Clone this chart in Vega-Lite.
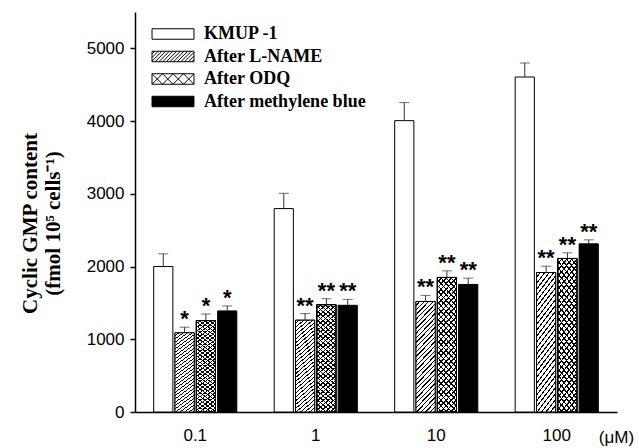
{
  "$schema": "https://vega.github.io/schema/vega-lite/v6.json",
  "width": 482,
  "height": 400,
  "autosize": {"type": "none"},
  "padding": {"left": 135, "top": 12, "right": 22, "bottom": 36},
  "background": "white",
  "config": {"view": {"stroke": null}, "axis": {"grid": false}},
  "data": {
    "values": [
      {"dose": "0.1", "series": "KMUP -1", "value": 2000, "err": 2175, "sig": ""},
      {"dose": "0.1", "series": "After L-NAME", "value": 1089, "err": 1166, "sig": "*"},
      {"dose": "0.1", "series": "After ODQ", "value": 1257, "err": 1348, "sig": "*"},
      {"dose": "0.1", "series": "After methylene blue", "value": 1390, "err": 1458, "sig": "*"},
      {"dose": "1", "series": "KMUP -1", "value": 2797, "err": 3007, "sig": ""},
      {"dose": "1", "series": "After L-NAME", "value": 1262, "err": 1353, "sig": "**"},
      {"dose": "1", "series": "After ODQ", "value": 1476, "err": 1558, "sig": "**"},
      {"dose": "1", "series": "After methylene blue", "value": 1467, "err": 1549, "sig": "**"},
      {"dose": "10", "series": "KMUP -1", "value": 4006, "err": 4254, "sig": ""},
      {"dose": "10", "series": "After L-NAME", "value": 1520, "err": 1603, "sig": "**"},
      {"dose": "10", "series": "After ODQ", "value": 1850, "err": 1941, "sig": "**"},
      {"dose": "10", "series": "After methylene blue", "value": 1754, "err": 1841, "sig": "**"},
      {"dose": "100", "series": "KMUP -1", "value": 4606, "err": 4799, "sig": ""},
      {"dose": "100", "series": "After L-NAME", "value": 1918, "err": 2005, "sig": "**"},
      {"dose": "100", "series": "After ODQ", "value": 2111, "err": 2189, "sig": "**"},
      {"dose": "100", "series": "After methylene blue", "value": 2312, "err": 2367, "sig": "**"}
    ]
  },
  "encoding": {
    "x": {
      "field": "dose", "type": "nominal", "sort": ["0.1", "1", "10", "100"],
      "scale": {"domain": ["0.1", "1", "10", "100"], "paddingInner": 0.31, "paddingOuter": 0.155},
      "axis": {"labelAngle": 0, "ticks": false, "tickSize": 0, "labelPadding": 15, "labelFont": "Liberation Sans", "labelFontSize": 17, "labelColor": "black", "domainColor": "black", "domainWidth": 1.5, "title": "(μM)", "titleFont": "Liberation Sans", "titleFontSize": 17, "titleFontWeight": "normal", "titleColor": "black", "titleX": 481, "titleY": 25, "titleBaseline": "middle", "titleAlign": "center"}
    },
    "xOffset": {
      "field": "series", "type": "nominal",
      "scale": {"domain": ["KMUP -1", "After L-NAME", "After ODQ", "After methylene blue"], "paddingInner": 0.1, "paddingOuter": 0}
    }
  },
  "layer": [
    {
      "mark": {"type": "bar", "stroke": "black", "strokeWidth": 1},
      "encoding": {
        "y": {
          "field": "value", "type": "quantitative",
          "scale": {"domain": [0, 5500], "nice": false},
          "axis": {"values": [0, 1000, 2000, 3000, 4000, 5000], "format": "d", "tickSize": 5, "tickColor": "black", "tickWidth": 1.5, "labelPadding": 6, "labelFont": "Liberation Sans", "labelFontSize": 17, "labelColor": "black", "domainColor": "black", "domainWidth": 1.5, "title": ["Cyclic GMP content", "(fmol 10⁵ cells⁻¹)"], "titleFont": "Liberation Serif", "titleFontSize": 21, "titleFontWeight": "bold", "titleColor": "black", "titleAngle": -90, "titleX": -105, "titleY": 211, "titleBaseline": "middle", "titleAlign": "center", "titleLineHeight": 23}
        },
        "fill": {
          "field": "series", "type": "nominal",
          "scale": {"domain": ["KMUP -1", "After L-NAME", "After ODQ", "After methylene blue"], "range": ["white", "white", "white", "black"]},
          "legend": {
            "orient": "none", "legendX": 29, "legendY": 13, "title": null, "padding": 0,
            "labelFont": "Liberation Serif", "labelFontSize": 18, "labelFontWeight": "bold", "labelColor": "black", "labelOffset": 22, "labelLimit": 400,
            "symbolSize": 110, "symbolType": "M-4,-1H4V1H-4Z", "symbolStrokeWidth": 1, "symbolStrokeColor": "black", "rowPadding": 4.5,
            "encode": {
              "symbols": {
                "update": {
                  "shape": [
                    {"test": "datum.value === 'After L-NAME'", "value": "M-4,-1H4V1H-4Z M-4,-0.5L-3.5,-1 M-4,0.2L-2.8,-1 M-4,0.9L-2.1,-1 M-3.4,1L-1.4,-1 M-2.7,1L-0.7,-1 M-2,1L0,-1 M-1.3,1L0.7,-1 M-0.6,1L1.4,-1 M0.1,1L2.1,-1 M0.8,1L2.8,-1 M1.5,1L3.5,-1 M2.2,1L4,-0.8 M2.9,1L4,-0.1 M3.6,1L4,0.6"},
                    {"test": "datum.value === 'After ODQ'", "value": "M-4,-1H4V1H-4Z M-4,1L-2,-1 M-2,1L0,-1 M0,1L2,-1 M2,1L4,-1 M-4,-1L-2,1 M-2,-1L0,1 M0,-1L2,1 M2,-1L4,1"},
                    {"value": "M-4,-1H4V1H-4Z"}
                  ],
                  "stroke": {"value": "black"},
                  "strokeWidth": {"value": 1},
                  "opacity": {"value": 1}
                }
              }
            }
          }
        }
      }
    },
    {
      "transform": [{"filter": "datum.series === 'After L-NAME'"}],
      "mark": {
        "type": "bar", "stroke": "black", "strokeWidth": 1,
        "fill": {"gradient": "linear", "x1": 0, "y1": 0, "x2": 0.207, "y2": 1.143, "stops": [
          {"offset":0.025,"color":"#fff"},{"offset":0.025,"color":"#000"},{"offset":0.0357,"color":"#000"},{"offset":0.0357,"color":"#fff"},
          {"offset":0.0607,"color":"#fff"},{"offset":0.0607,"color":"#000"},{"offset":0.0714,"color":"#000"},{"offset":0.0714,"color":"#fff"},
          {"offset":0.0964,"color":"#fff"},{"offset":0.0964,"color":"#000"},{"offset":0.1071,"color":"#000"},{"offset":0.1071,"color":"#fff"},
          {"offset":0.1321,"color":"#fff"},{"offset":0.1321,"color":"#000"},{"offset":0.1429,"color":"#000"},{"offset":0.1429,"color":"#fff"},
          {"offset":0.1679,"color":"#fff"},{"offset":0.1679,"color":"#000"},{"offset":0.1786,"color":"#000"},{"offset":0.1786,"color":"#fff"},
          {"offset":0.2036,"color":"#fff"},{"offset":0.2036,"color":"#000"},{"offset":0.2143,"color":"#000"},{"offset":0.2143,"color":"#fff"},
          {"offset":0.2393,"color":"#fff"},{"offset":0.2393,"color":"#000"},{"offset":0.25,"color":"#000"},{"offset":0.25,"color":"#fff"},
          {"offset":0.275,"color":"#fff"},{"offset":0.275,"color":"#000"},{"offset":0.2857,"color":"#000"},{"offset":0.2857,"color":"#fff"},
          {"offset":0.3107,"color":"#fff"},{"offset":0.3107,"color":"#000"},{"offset":0.3214,"color":"#000"},{"offset":0.3214,"color":"#fff"},
          {"offset":0.3464,"color":"#fff"},{"offset":0.3464,"color":"#000"},{"offset":0.3571,"color":"#000"},{"offset":0.3571,"color":"#fff"},
          {"offset":0.3821,"color":"#fff"},{"offset":0.3821,"color":"#000"},{"offset":0.3929,"color":"#000"},{"offset":0.3929,"color":"#fff"},
          {"offset":0.4179,"color":"#fff"},{"offset":0.4179,"color":"#000"},{"offset":0.4286,"color":"#000"},{"offset":0.4286,"color":"#fff"},
          {"offset":0.4536,"color":"#fff"},{"offset":0.4536,"color":"#000"},{"offset":0.4643,"color":"#000"},{"offset":0.4643,"color":"#fff"},
          {"offset":0.4893,"color":"#fff"},{"offset":0.4893,"color":"#000"},{"offset":0.5,"color":"#000"},{"offset":0.5,"color":"#fff"},
          {"offset":0.525,"color":"#fff"},{"offset":0.525,"color":"#000"},{"offset":0.5357,"color":"#000"},{"offset":0.5357,"color":"#fff"},
          {"offset":0.5607,"color":"#fff"},{"offset":0.5607,"color":"#000"},{"offset":0.5714,"color":"#000"},{"offset":0.5714,"color":"#fff"},
          {"offset":0.5964,"color":"#fff"},{"offset":0.5964,"color":"#000"},{"offset":0.6071,"color":"#000"},{"offset":0.6071,"color":"#fff"},
          {"offset":0.6321,"color":"#fff"},{"offset":0.6321,"color":"#000"},{"offset":0.6429,"color":"#000"},{"offset":0.6429,"color":"#fff"},
          {"offset":0.6679,"color":"#fff"},{"offset":0.6679,"color":"#000"},{"offset":0.6786,"color":"#000"},{"offset":0.6786,"color":"#fff"},
          {"offset":0.7036,"color":"#fff"},{"offset":0.7036,"color":"#000"},{"offset":0.7143,"color":"#000"},{"offset":0.7143,"color":"#fff"},
          {"offset":0.7393,"color":"#fff"},{"offset":0.7393,"color":"#000"},{"offset":0.75,"color":"#000"},{"offset":0.75,"color":"#fff"},
          {"offset":0.775,"color":"#fff"},{"offset":0.775,"color":"#000"},{"offset":0.7857,"color":"#000"},{"offset":0.7857,"color":"#fff"},
          {"offset":0.8107,"color":"#fff"},{"offset":0.8107,"color":"#000"},{"offset":0.8214,"color":"#000"},{"offset":0.8214,"color":"#fff"},
          {"offset":0.8464,"color":"#fff"},{"offset":0.8464,"color":"#000"},{"offset":0.8571,"color":"#000"},{"offset":0.8571,"color":"#fff"},
          {"offset":0.8821,"color":"#fff"},{"offset":0.8821,"color":"#000"},{"offset":0.8929,"color":"#000"},{"offset":0.8929,"color":"#fff"},
          {"offset":0.9179,"color":"#fff"},{"offset":0.9179,"color":"#000"},{"offset":0.9286,"color":"#000"},{"offset":0.9286,"color":"#fff"},
          {"offset":0.9536,"color":"#fff"},{"offset":0.9536,"color":"#000"},{"offset":0.9643,"color":"#000"},{"offset":0.9643,"color":"#fff"},
          {"offset":0.9893,"color":"#fff"},{"offset":0.9893,"color":"#000"},{"offset":1,"color":"#000"}
        ]}
      },
      "encoding": {"y": {"field": "value", "type": "quantitative"}}
    },
    {
      "transform": [{"filter": "datum.series === 'After ODQ'"}],
      "mark": {
        "type": "bar", "stroke": "black", "strokeWidth": 1,
        "fill": {"gradient": "linear", "x1": 0, "y1": 0, "x2": 0.176, "y2": 1.128, "stops": [
          {"offset":0.025,"color":"transparent"},{"offset":0.025,"color":"#000"},{"offset":0.0357,"color":"#000"},{"offset":0.0357,"color":"transparent"},
          {"offset":0.0607,"color":"transparent"},{"offset":0.0607,"color":"#000"},{"offset":0.0714,"color":"#000"},{"offset":0.0714,"color":"transparent"},
          {"offset":0.0964,"color":"transparent"},{"offset":0.0964,"color":"#000"},{"offset":0.1071,"color":"#000"},{"offset":0.1071,"color":"transparent"},
          {"offset":0.1321,"color":"transparent"},{"offset":0.1321,"color":"#000"},{"offset":0.1429,"color":"#000"},{"offset":0.1429,"color":"transparent"},
          {"offset":0.1679,"color":"transparent"},{"offset":0.1679,"color":"#000"},{"offset":0.1786,"color":"#000"},{"offset":0.1786,"color":"transparent"},
          {"offset":0.2036,"color":"transparent"},{"offset":0.2036,"color":"#000"},{"offset":0.2143,"color":"#000"},{"offset":0.2143,"color":"transparent"},
          {"offset":0.2393,"color":"transparent"},{"offset":0.2393,"color":"#000"},{"offset":0.25,"color":"#000"},{"offset":0.25,"color":"transparent"},
          {"offset":0.275,"color":"transparent"},{"offset":0.275,"color":"#000"},{"offset":0.2857,"color":"#000"},{"offset":0.2857,"color":"transparent"},
          {"offset":0.3107,"color":"transparent"},{"offset":0.3107,"color":"#000"},{"offset":0.3214,"color":"#000"},{"offset":0.3214,"color":"transparent"},
          {"offset":0.3464,"color":"transparent"},{"offset":0.3464,"color":"#000"},{"offset":0.3571,"color":"#000"},{"offset":0.3571,"color":"transparent"},
          {"offset":0.3821,"color":"transparent"},{"offset":0.3821,"color":"#000"},{"offset":0.3929,"color":"#000"},{"offset":0.3929,"color":"transparent"},
          {"offset":0.4179,"color":"transparent"},{"offset":0.4179,"color":"#000"},{"offset":0.4286,"color":"#000"},{"offset":0.4286,"color":"transparent"},
          {"offset":0.4536,"color":"transparent"},{"offset":0.4536,"color":"#000"},{"offset":0.4643,"color":"#000"},{"offset":0.4643,"color":"transparent"},
          {"offset":0.4893,"color":"transparent"},{"offset":0.4893,"color":"#000"},{"offset":0.5,"color":"#000"},{"offset":0.5,"color":"transparent"},
          {"offset":0.525,"color":"transparent"},{"offset":0.525,"color":"#000"},{"offset":0.5357,"color":"#000"},{"offset":0.5357,"color":"transparent"},
          {"offset":0.5607,"color":"transparent"},{"offset":0.5607,"color":"#000"},{"offset":0.5714,"color":"#000"},{"offset":0.5714,"color":"transparent"},
          {"offset":0.5964,"color":"transparent"},{"offset":0.5964,"color":"#000"},{"offset":0.6071,"color":"#000"},{"offset":0.6071,"color":"transparent"},
          {"offset":0.6321,"color":"transparent"},{"offset":0.6321,"color":"#000"},{"offset":0.6429,"color":"#000"},{"offset":0.6429,"color":"transparent"},
          {"offset":0.6679,"color":"transparent"},{"offset":0.6679,"color":"#000"},{"offset":0.6786,"color":"#000"},{"offset":0.6786,"color":"transparent"},
          {"offset":0.7036,"color":"transparent"},{"offset":0.7036,"color":"#000"},{"offset":0.7143,"color":"#000"},{"offset":0.7143,"color":"transparent"},
          {"offset":0.7393,"color":"transparent"},{"offset":0.7393,"color":"#000"},{"offset":0.75,"color":"#000"},{"offset":0.75,"color":"transparent"},
          {"offset":0.775,"color":"transparent"},{"offset":0.775,"color":"#000"},{"offset":0.7857,"color":"#000"},{"offset":0.7857,"color":"transparent"},
          {"offset":0.8107,"color":"transparent"},{"offset":0.8107,"color":"#000"},{"offset":0.8214,"color":"#000"},{"offset":0.8214,"color":"transparent"},
          {"offset":0.8464,"color":"transparent"},{"offset":0.8464,"color":"#000"},{"offset":0.8571,"color":"#000"},{"offset":0.8571,"color":"transparent"},
          {"offset":0.8821,"color":"transparent"},{"offset":0.8821,"color":"#000"},{"offset":0.8929,"color":"#000"},{"offset":0.8929,"color":"transparent"},
          {"offset":0.9179,"color":"transparent"},{"offset":0.9179,"color":"#000"},{"offset":0.9286,"color":"#000"},{"offset":0.9286,"color":"transparent"},
          {"offset":0.9536,"color":"transparent"},{"offset":0.9536,"color":"#000"},{"offset":0.9643,"color":"#000"},{"offset":0.9643,"color":"transparent"},
          {"offset":0.9893,"color":"transparent"},{"offset":0.9893,"color":"#000"},{"offset":1,"color":"#000"}
        ]}
      },
      "encoding": {"y": {"field": "value", "type": "quantitative"}}
    },
    {
      "transform": [{"filter": "datum.series === 'After ODQ'"}],
      "mark": {
        "type": "bar", "stroke": "black", "strokeWidth": 1,
        "fill": {"gradient": "linear", "x1": 0, "y1": 1, "x2": 0.176, "y2": -0.128, "stops": [
          {"offset":0.025,"color":"transparent"},{"offset":0.025,"color":"#000"},{"offset":0.0357,"color":"#000"},{"offset":0.0357,"color":"transparent"},
          {"offset":0.0607,"color":"transparent"},{"offset":0.0607,"color":"#000"},{"offset":0.0714,"color":"#000"},{"offset":0.0714,"color":"transparent"},
          {"offset":0.0964,"color":"transparent"},{"offset":0.0964,"color":"#000"},{"offset":0.1071,"color":"#000"},{"offset":0.1071,"color":"transparent"},
          {"offset":0.1321,"color":"transparent"},{"offset":0.1321,"color":"#000"},{"offset":0.1429,"color":"#000"},{"offset":0.1429,"color":"transparent"},
          {"offset":0.1679,"color":"transparent"},{"offset":0.1679,"color":"#000"},{"offset":0.1786,"color":"#000"},{"offset":0.1786,"color":"transparent"},
          {"offset":0.2036,"color":"transparent"},{"offset":0.2036,"color":"#000"},{"offset":0.2143,"color":"#000"},{"offset":0.2143,"color":"transparent"},
          {"offset":0.2393,"color":"transparent"},{"offset":0.2393,"color":"#000"},{"offset":0.25,"color":"#000"},{"offset":0.25,"color":"transparent"},
          {"offset":0.275,"color":"transparent"},{"offset":0.275,"color":"#000"},{"offset":0.2857,"color":"#000"},{"offset":0.2857,"color":"transparent"},
          {"offset":0.3107,"color":"transparent"},{"offset":0.3107,"color":"#000"},{"offset":0.3214,"color":"#000"},{"offset":0.3214,"color":"transparent"},
          {"offset":0.3464,"color":"transparent"},{"offset":0.3464,"color":"#000"},{"offset":0.3571,"color":"#000"},{"offset":0.3571,"color":"transparent"},
          {"offset":0.3821,"color":"transparent"},{"offset":0.3821,"color":"#000"},{"offset":0.3929,"color":"#000"},{"offset":0.3929,"color":"transparent"},
          {"offset":0.4179,"color":"transparent"},{"offset":0.4179,"color":"#000"},{"offset":0.4286,"color":"#000"},{"offset":0.4286,"color":"transparent"},
          {"offset":0.4536,"color":"transparent"},{"offset":0.4536,"color":"#000"},{"offset":0.4643,"color":"#000"},{"offset":0.4643,"color":"transparent"},
          {"offset":0.4893,"color":"transparent"},{"offset":0.4893,"color":"#000"},{"offset":0.5,"color":"#000"},{"offset":0.5,"color":"transparent"},
          {"offset":0.525,"color":"transparent"},{"offset":0.525,"color":"#000"},{"offset":0.5357,"color":"#000"},{"offset":0.5357,"color":"transparent"},
          {"offset":0.5607,"color":"transparent"},{"offset":0.5607,"color":"#000"},{"offset":0.5714,"color":"#000"},{"offset":0.5714,"color":"transparent"},
          {"offset":0.5964,"color":"transparent"},{"offset":0.5964,"color":"#000"},{"offset":0.6071,"color":"#000"},{"offset":0.6071,"color":"transparent"},
          {"offset":0.6321,"color":"transparent"},{"offset":0.6321,"color":"#000"},{"offset":0.6429,"color":"#000"},{"offset":0.6429,"color":"transparent"},
          {"offset":0.6679,"color":"transparent"},{"offset":0.6679,"color":"#000"},{"offset":0.6786,"color":"#000"},{"offset":0.6786,"color":"transparent"},
          {"offset":0.7036,"color":"transparent"},{"offset":0.7036,"color":"#000"},{"offset":0.7143,"color":"#000"},{"offset":0.7143,"color":"transparent"},
          {"offset":0.7393,"color":"transparent"},{"offset":0.7393,"color":"#000"},{"offset":0.75,"color":"#000"},{"offset":0.75,"color":"transparent"},
          {"offset":0.775,"color":"transparent"},{"offset":0.775,"color":"#000"},{"offset":0.7857,"color":"#000"},{"offset":0.7857,"color":"transparent"},
          {"offset":0.8107,"color":"transparent"},{"offset":0.8107,"color":"#000"},{"offset":0.8214,"color":"#000"},{"offset":0.8214,"color":"transparent"},
          {"offset":0.8464,"color":"transparent"},{"offset":0.8464,"color":"#000"},{"offset":0.8571,"color":"#000"},{"offset":0.8571,"color":"transparent"},
          {"offset":0.8821,"color":"transparent"},{"offset":0.8821,"color":"#000"},{"offset":0.8929,"color":"#000"},{"offset":0.8929,"color":"transparent"},
          {"offset":0.9179,"color":"transparent"},{"offset":0.9179,"color":"#000"},{"offset":0.9286,"color":"#000"},{"offset":0.9286,"color":"transparent"},
          {"offset":0.9536,"color":"transparent"},{"offset":0.9536,"color":"#000"},{"offset":0.9643,"color":"#000"},{"offset":0.9643,"color":"transparent"},
          {"offset":0.9893,"color":"transparent"},{"offset":0.9893,"color":"#000"},{"offset":1,"color":"#000"}
        ]}
      },
      "encoding": {"y": {"field": "value", "type": "quantitative"}}
    },
    {
      "mark": {"type": "rule", "color": "#333", "strokeWidth": 1},
      "encoding": {
        "y": {"field": "value", "type": "quantitative"},
        "y2": {"field": "err"}
      }
    },
    {
      "mark": {"type": "tick", "color": "#333", "thickness": 1, "size": 10},
      "encoding": {"y": {"field": "err", "type": "quantitative"}}
    },
    {
      "transform": [{"filter": "datum.sig !== ''"}],
      "mark": {"type": "text", "baseline": "alphabetic", "align": "center", "dy": -1, "font": "Liberation Sans", "fontSize": 22, "fontWeight": "bold", "color": "black"},
      "encoding": {
        "y": {"field": "err", "type": "quantitative"},
        "text": {"field": "sig"}
      }
    }
  ]
}
